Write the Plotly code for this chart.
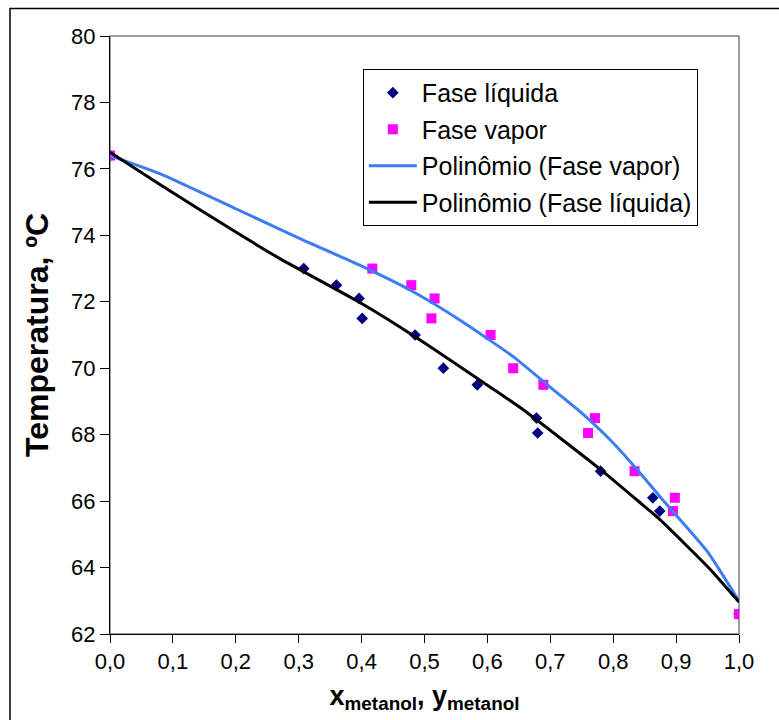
import plotly.graph_objects as go

# ---- data ----
temp = [76.4, 73.0, 72.5, 72.1, 71.5, 71.0, 70.0, 69.5, 68.5, 68.05, 66.9, 66.1, 65.7, 62.6]
x_liq = [0.0, 0.308, 0.360, 0.396, 0.401, 0.485, 0.530, 0.584, 0.678, 0.680, 0.780, 0.863, 0.874, 1.0]
y_vap = [0.0, 0.417, 0.479, 0.516, 0.511, 0.605, 0.641, 0.689, 0.771, 0.760, 0.834, 0.898, 0.895, 1.0]

# polynomial trendlines
fit_vap_x = [0.0, 0.08, 0.2, 0.302, 0.397, 0.482, 0.556, 0.641, 0.705, 0.747, 0.800, 0.843, 0.874, 0.949, 1.0]
fit_vap_t = [76.4, 75.85, 74.8, 73.9, 73.1, 72.3, 71.45, 70.35, 69.35, 68.7, 67.75, 66.84, 66.14, 64.5, 62.99]
fit_liq_x = [0.0, 0.08, 0.2, 0.27, 0.4, 0.485, 0.607, 0.657, 0.78, 0.843, 0.874, 0.954, 1.0]
fit_liq_t = [76.5, 75.52, 74.1, 73.3, 71.95, 70.95, 69.4, 68.75, 66.95, 65.95, 65.45, 63.95, 62.96]

x_ticks = [0.0, 0.1, 0.2, 0.3, 0.4, 0.5, 0.6, 0.7, 0.8, 0.9, 1.0]
x_tick_labels = ["0,0", "0,1", "0,2", "0,3", "0,4", "0,5", "0,6", "0,7", "0,8", "0,9", "1,0"]
y_ticks = [62, 64, 66, 68, 70, 72, 74, 76, 78, 80]

FONT = "Liberation Sans, Arial, sans-serif"

fig = go.Figure()
fig.add_trace(go.Scatter(
    x=x_liq, y=temp, mode="markers", name="Fase líquida",
    marker=dict(symbol="diamond", size=9, color="#000080"),
    legendrank=1, legendgroup="a"))
fig.add_trace(go.Scatter(
    x=y_vap, y=temp, mode="markers", name="Fase vapor",
    marker=dict(symbol="square", size=10, color="#FF00FF"),
    legendrank=2, legendgroup="b"))
fig.add_trace(go.Scatter(
    x=fit_vap_x, y=fit_vap_t, mode="lines", name="Polinômio (Fase vapor)",
    line=dict(color="#3C7DF5", width=3, shape="spline", smoothing=0.5),
    legendrank=3, legendgroup="c"))
fig.add_trace(go.Scatter(
    x=fit_liq_x, y=fit_liq_t, mode="lines", name="Polinômio (Fase líquida)",
    line=dict(color="#000000", width=3, shape="spline", smoothing=0.5),
    legendrank=4, legendgroup="d"))

fig.update_layout(
    width=779, height=720,
    margin=dict(l=110, r=40, t=36, b=86),
    paper_bgcolor="white", plot_bgcolor="white",
    font=dict(family=FONT, size=22, color="black"),
    showlegend=True,
    legend=dict(
        x=0.402, y=0.945, xanchor="left", yanchor="top",
        bgcolor="white", bordercolor="black", borderwidth=1,
        font=dict(family=FONT, size=25, color="black"),
        tracegroupgap=1, traceorder="grouped", itemwidth=48,
    ),
    xaxis=dict(
        range=[0, 1], tickvals=x_ticks, ticktext=x_tick_labels,
        showgrid=False, zeroline=False, showline=True, linecolor="#000000", linewidth=1,
        ticks="outside", ticklen=8, tickcolor="#000000",
        tickfont=dict(family=FONT, size=22),
        title=dict(text="<b>x<sub>metanol</sub>, y<sub>metanol</sub></b>",
                   font=dict(family=FONT, size=27), standoff=12),
    ),
    yaxis=dict(
        range=[62, 80], tickvals=y_ticks,
        showgrid=False, zeroline=False, showline=True, linecolor="#000000", linewidth=1,
        ticks="outside", ticklen=9, tickcolor="#000000",
        tickfont=dict(family=FONT, size=22),
        title=dict(text="<b>Temperatura, ºC</b>",
                   font=dict(family=FONT, size=32), standoff=12),
    ),
    shapes=[
        dict(type="rect", xref="paper", yref="paper", x0=0, x1=1, y0=0, y1=1,
             line=dict(color="#808080", width=1.5), layer="below"),
        dict(type="rect", xref="paper", yref="paper",
             x0=(10 - 110) / 629, x1=(800 - 110) / 629,
             y0=(634.5 - 740) / 599, y1=(634.5 - 8) / 599,
             line=dict(color="black", width=1.5), layer="below"),
    ],
)

fig.write_html("out.html")
